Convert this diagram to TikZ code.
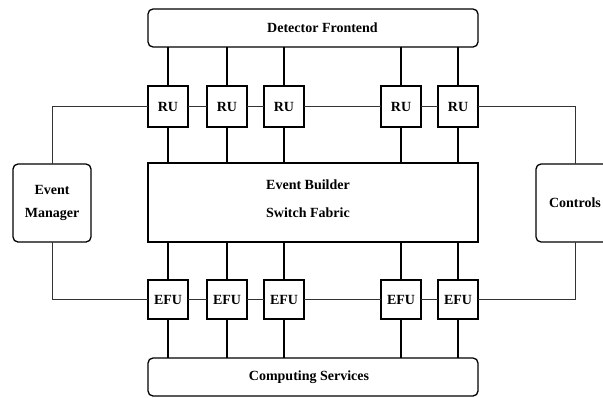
\documentclass[tikz,border=0pt]{standalone}
\usepackage{fontspec}
\setmainfont{Liberation Serif}
\begin{document}
\begin{tikzpicture}[x=1pt,y=1pt,
  box/.style={draw,line width=1.3pt,inner sep=0pt,outer sep=0pt,font=\fontsize{14}{17}\selectfont\bfseries,align=center},
  rbox/.style={box,rounded corners=5pt},
  unit/.style={box,minimum width=40pt},
  lbl/.style={inner sep=0pt,font=\fontsize{14}{17}\selectfont\bfseries},
  vline/.style={line width=1.5pt},
  hline/.style={line width=0.8pt,black!80}]
\useasboundingbox (0,0) rectangle (603,-397);
\node[rbox,minimum width=330pt,minimum height=38pt] (det) at (313,-28) {};
\node[lbl] (dett) at (322.5,-28) {Detector Frontend};
\node[box,minimum width=330pt,minimum height=79pt] (sw) at (313,-202.5) {};
\node[lbl,anchor=west,align=left,font=\fontsize{14}{28}\selectfont\bfseries] (swt) at (266,-199) {Event Builder\\Switch Fabric};
\node[rbox,minimum width=330pt,minimum height=38pt] (cs) at (313,-377) {};
\node[lbl] (cst) at (309,-377) {Computing Services};
\node[rbox,minimum width=78pt,minimum height=78pt,font=\fontsize{14}{23}\selectfont\bfseries] (em) at (52,-203) {Event\\Manager};
\node[rbox,minimum width=78pt,minimum height=78pt] (ctl) at (575,-203) {Controls};
\foreach \i/\x in {1/168,2/227,3/284,4/401,5/458}{
  \node[unit,minimum height=41pt] (ru\i) at (\x,-106.5) {RU};
  \node[unit,minimum height=39pt] (efu\i) at (\x,-299.5) {EFU};
  \draw[vline] (ru\i.north) -- (ru\i.north |- det.south);
  \draw[vline] (ru\i.south) -- (ru\i.south |- sw.north);
  \draw[vline] (efu\i.north) -- (efu\i.north |- sw.south);
  \draw[vline] (efu\i.south) -- (efu\i.south |- cs.north);
}
\foreach \a/\b in {1/2,2/3,3/4,4/5}{
  \draw[hline] (ru\a.east) -- (ru\b.west);
  \draw[hline] (efu\a.east) -- (efu\b.west);
}
\draw[hline] (em.north) |- (ru1.west);
\draw[hline] (em.south) |- (efu1.west);
\draw[hline] (ru5.east) -| (ctl.north);
\draw[hline] (efu5.east) -| (ctl.south);
\end{tikzpicture}
\end{document}
